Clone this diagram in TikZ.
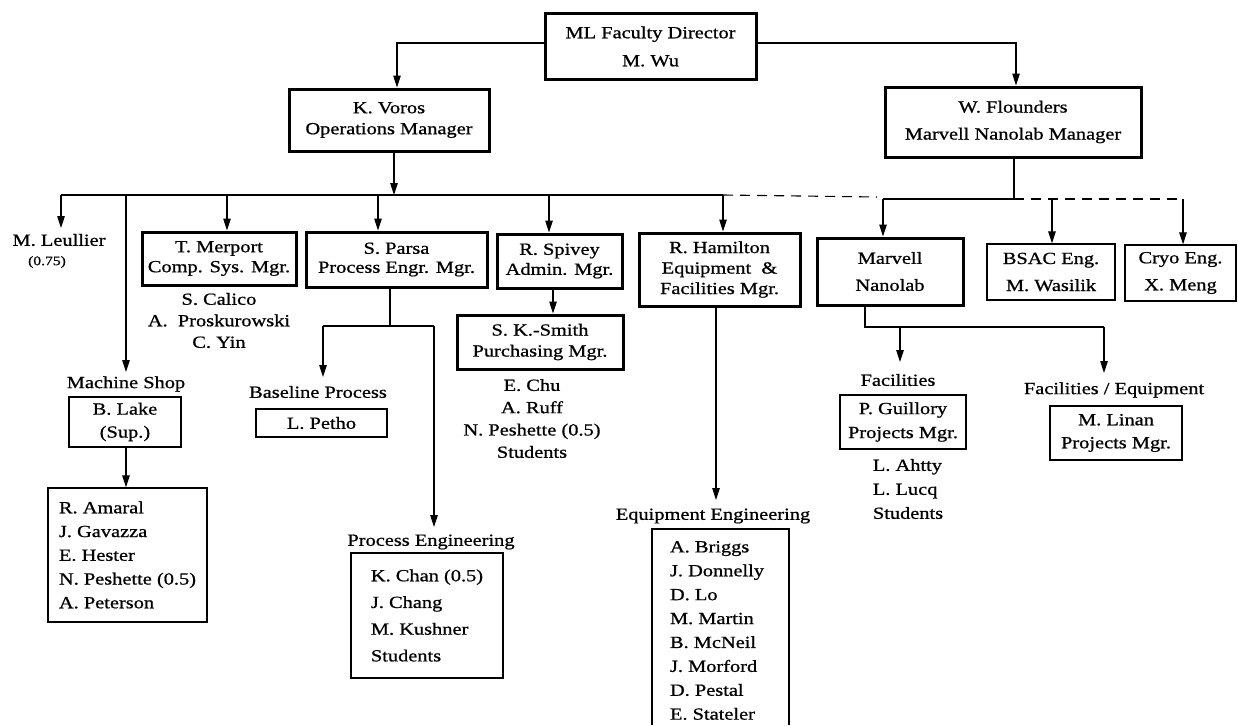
\documentclass[tikz,border=0pt]{standalone}
\usepackage{fontspec}
\setmainfont{Liberation Serif}[FakeStretch=1.2,FakeBold=0.8]
\usetikzlibrary{arrows.meta}
\newcommand{\fsz}[1]{\fontsize{17}{#1}\selectfont}
\begin{document}
\begin{tikzpicture}[x=1pt,y=-1pt,
  thickbox/.style={draw,line width=3pt,inner sep=0pt,align=center},
  thinbox/.style={draw,line width=1.3pt,inner sep=0pt,align=center},
  lbl/.style={inner sep=0pt,align=center,font=\fsz{21}},
  conn/.style={line width=1.1pt},
  arr/.style={conn,-{Triangle[length=12pt,width=7.5pt]}},
  dsh/.style={conn,dash pattern=on 10pt off 7pt},
  frame/.style={line width=1.3pt},
]
\useasboundingbox[fill=white] (0,0) rectangle (1238,725);

% ---- top level boxes
\node[thickbox,minimum width=211pt,minimum height=65pt,font=\fsz{28}] (ml) at (650.5,46.5) {ML Faculty Director\\M. Wu};
\node[thickbox,minimum width=200pt,minimum height=62pt,font=\fsz{21}] (voros) at (389,120) {K. Voros\\Operations Manager};
\node[thickbox,minimum width=256pt,minimum height=70pt,font=\fsz{27}] (fl) at (1013,122) {W. Flounders\\Marvell Nanolab Manager};

% ---- second row
\node[lbl] (leul) at (59,240) {M. Leullier};
\node[lbl,font=\fontsize{13}{15}\selectfont] (leulp) at (47,262) {(0.75)};
\node[thickbox,minimum width=154pt,minimum height=53pt,font=\fsz{20}] (merp) at (219,258.5) {T. Merport\\Comp. Sys. Mgr.};
\node[lbl,font=\fsz{21.5}] (merpn) at (219,320.5) {S. Calico\\A.\ \ Proskurowski\\C. Yin};
\node[thickbox,minimum width=181pt,minimum height=55pt,font=\fsz{19}] (parsa) at (396.5,259.5) {S. Parsa\\Process Engr. Mgr.};
\node[thickbox,minimum width=125pt,minimum height=54pt,font=\fsz{20}] (spiv) at (559.5,261) {R. Spivey\\Admin. Mgr.};
\node[thickbox,minimum width=166pt,minimum height=54pt,font=\fsz{21}] (ks) at (540,342) {S. K.-Smith\\Purchasing Mgr.};
\node[lbl,font=\fsz{22.3}] (ksn) at (532,418.5) {E. Chu\\A. Ruff\\N. Peshette (0.5)\\Students};
\node[thickbox,minimum width=161pt,minimum height=73pt,font=\fsz{20.5}] (ham) at (719.5,269.5) {R. Hamilton\\Equipment \ \&\\Facilities Mgr.};
\node[thickbox,minimum width=146pt,minimum height=67pt,font=\fsz{27}] (marv) at (890,271.5) {Marvell\\Nanolab};
\node[thinbox,minimum width=128pt,minimum height=56pt,font=\fsz{27}] (bsac) at (1051,272) {BSAC Eng.\\M. Wasilik};
\node[thinbox,minimum width=111pt,minimum height=56pt,font=\fsz{27}] (cryo) at (1180.5,273) {Cryo Eng.\\X. Meng};

% ---- machine shop
\node[lbl] (msl) at (126,384) {Machine Shop};
\node[thinbox,minimum width=112pt,minimum height=50pt,font=\fsz{23}] (blake) at (125,422) {B. Lake\\(Sup.)};
\node[thinbox,minimum width=159pt,minimum height=134pt,align=left,font=\fsz{23.75}] (amar) at (127.5,555) {R. Amaral\\J. Gavazza\\E. Hester\\N. Peshette (0.5)\\A. Peterson};

% ---- process
\node[lbl] (basel) at (318,392) {Baseline Process};
\node[thinbox,minimum width=131pt,minimum height=28pt,font=\fsz{21}] (petho) at (321.5,423) {L. Petho};
\node[lbl] (pel) at (431,542) {Process Engineering};
\node[thinbox,minimum width=152pt,minimum height=125pt,align=left,font=\fsz{26.7}] (pe) at (427,615.5) {K. Chan (0.5)\\J. Chang\\M. Kushner\\Students};

% ---- equipment
\node[lbl] (eql) at (713,516) {Equipment Engineering};
\node[lbl,align=left,font=\fsz{23.9}] (eqn) at (717,630.5) {A. Briggs\\J. Donnelly\\D. Lo\\M. Martin\\B. McNeil\\J. Morford\\D. Pestal\\E. Stateler};
\draw[frame] (652,725) |- (789,529) -- (789,725);

% ---- facilities
\node[lbl] (facl) at (898,380) {Facilities};
\node[thinbox,minimum width=126pt,minimum height=54pt,font=\fsz{24}] (guil) at (903,422) {P. Guillory\\Projects Mgr.};
\node[lbl,align=left,font=\fsz{24}] (guiln) at (908,489) {L. Ahtty\\L. Lucq\\Students};
\node[lbl] (fel) at (1114,390) {Facilities / Equipment};
\node[thinbox,minimum width=132pt,minimum height=54pt,font=\fsz{23}] (linan) at (1116,433) {M. Linan\\Projects Mgr.};

% ---- connectors from the director
\draw[arr] ([yshift=3.5pt]ml.west) -| ([xshift=8pt]voros.north);
\draw[arr] ([yshift=3.5pt]ml.east) -| ([xshift=3pt]fl.north);

% ---- Voros bus
\coordinate (vb) at (394,195);
\coordinate (bL) at (61,195);
\coordinate (bMS) at (126,195);
\coordinate (bMe) at (227,195);
\coordinate (bPa) at (378,195);
\coordinate (bSp) at (549,195);
\coordinate (bH) at (723,195);
\coordinate (bD) at (877,197);
\draw[arr] (voros.south -| vb) -- (vb);
\draw[conn] (bL) -- (bH);
\draw[dsh] (bH) -- (bD);
\coordinate (tLeul) at (61,228);
\coordinate (tMS) at (126,372);
\draw[arr] (bL) -- (tLeul);
\draw[arr] (bMS) -- (tMS);
\draw[arr] (bMe) -- (merp.north -| bMe);
\draw[arr] (bPa) -- (parsa.north -| bPa);
\draw[arr] (bSp) -- (spiv.north -| bSp);
\draw[arr] (bH) -- (ham.north -| bH);

% ---- Flounders bus
\coordinate (fb) at (1014,199);
\coordinate (bM) at (883,199);
\coordinate (bB) at (1052,199);
\coordinate (bC) at (1183,199);
\draw[conn] (fl.south -| fb) -- (fb);
\draw[conn] (bM) -- (fb);
\draw[dsh] (fb) -- (bC);
\draw[arr] (bM) -- (marv.north -| bM);
\draw[arr] (bB) -- (bsac.north -| bB);
\draw[arr] (bC) -- (cryo.north -| bC);

% ---- Spivey to K.-Smith
\coordinate (xs) at (553,0);
\draw[arr] (spiv.south -| xs) -- (ks.north -| xs);

% ---- machine shop
\coordinate (xms) at (126,0);
\draw[arr] (blake.south -| xms) -- (amar.north -| xms);

% ---- Parsa branches
\coordinate (pj) at (390,326);
\coordinate (pbL) at (323,326);
\coordinate (pbR) at (434,326);
\coordinate (tBase) at (323,377);
\coordinate (tPE) at (434,527);
\draw[conn] (parsa.south -| pj) -- (pj);
\draw[conn] (pbL) -- (pbR);
\draw[arr] (pbL) -- (tBase);
\draw[arr] (pbR) -- (tPE);

% ---- Hamilton drop
\coordinate (tEq) at (716,500);
\draw[arr] (ham.south -| tEq) -- (tEq);

% ---- Marvell branches
\coordinate (mj) at (865,327);
\coordinate (mbR) at (1104,327);
\coordinate (mbF) at (900,327);
\coordinate (tFac) at (900,362);
\coordinate (tFE) at (1104,373);
\draw[conn] (marv.south -| mj) -- (mj) -- (mbR);
\draw[arr] (mbF) -- (tFac);
\draw[arr] (mbR) -- (tFE);
\end{tikzpicture}
\end{document}
